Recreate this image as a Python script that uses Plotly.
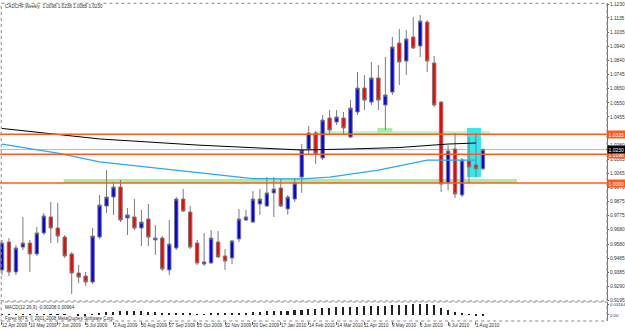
import pandas as pd
import plotly.graph_objects as go

# ---------------- data ----------------
weeks = pd.date_range("2009-04-12", periods=70, freq="7D")

opens = [0.9403, 0.9595, 0.9389, 0.9560, 0.9588, 0.9513, 0.9657, 0.9767, 0.9691, 0.9629,
         0.9513, 0.9382, 0.9361, 0.9320, 0.9629, 0.9842, 0.9904, 0.9973, 0.9760, 0.9767,
         0.9691, 0.9753, 0.9609, 0.9622, 0.9403, 0.9554, 0.9890, 0.9801, 0.9588, 0.9444,
         0.9451, 0.9595, 0.9499, 0.9485, 0.9616, 0.9746, 0.9732, 0.9856, 0.9842, 0.9932,
         0.9966, 0.9822, 0.9890, 1.0041, 1.0234, 1.0344, 1.0172, 1.0447, 1.0419, 1.0447,
         1.0316, 1.0488, 1.0653, 1.0556, 1.0722, 1.0536, 1.0625, 1.0962, 1.0838, 1.1003,
         1.0942, 1.1106, 1.0825, 1.0556, 1.0000, 1.0234, 0.9918, 1.0151, 1.0124, 1.0098]
highs = [0.9609, 0.9622, 0.9574, 0.9767, 0.9609, 0.9698, 0.9794, 0.9870, 0.9863, 0.9643,
         0.9526, 0.9437, 0.9389, 0.9691, 0.9918, 1.0089, 1.0007, 1.0021, 0.9829, 0.9890,
         0.9815, 0.9856, 0.9712, 0.9636, 0.9746, 0.9904, 0.9959, 0.9842, 0.9609, 0.9657,
         0.9677, 0.9670, 0.9547, 0.9609, 0.9822, 0.9815, 0.9945, 0.9959, 1.0041, 1.0041,
         1.0028, 0.9918, 1.0035, 1.0268, 1.0392, 1.0358, 1.0467, 1.0502, 1.0502, 1.0488,
         1.0570, 1.0763, 1.0742, 1.0832, 1.0811, 1.0866, 1.1003, 1.1058, 1.1051, 1.1141,
         1.1154, 1.1120, 1.0873, 1.0563, 1.0261, 1.0344, 1.0172, 1.0316, 1.0344, 1.0238]
lows = [0.9368, 0.9361, 0.9368, 0.9540, 0.9389, 0.9499, 0.9643, 0.9588, 0.9588, 0.9485,
        0.9238, 0.9313, 0.9293, 0.9306, 0.9616, 0.9794, 0.9781, 0.9732, 0.9643, 0.9677,
        0.9567, 0.9567, 0.9506, 0.9396, 0.9368, 0.9540, 0.9801, 0.9547, 0.9437, 0.9430,
        0.9444, 0.9485, 0.9403, 0.9444, 0.9595, 0.9739, 0.9726, 0.9781, 0.9835, 0.9767,
        0.9835, 0.9781, 0.9870, 0.9932, 1.0193, 1.0131, 1.0158, 1.0330, 1.0399, 1.0330,
        1.0309, 1.0467, 1.0502, 1.0536, 1.0502, 1.0364, 1.0605, 1.0673, 1.0742, 1.0921,
        1.0866, 1.0763, 1.0522, 0.9938, 0.9952, 0.9897, 0.9904, 1.0000, 1.0041, 1.0088]
closes = [0.9588, 0.9389, 0.9554, 0.9588, 0.9513, 0.9657, 0.9774, 0.9691, 0.9636, 0.9499,
          0.9382, 0.9354, 0.9320, 0.9636, 0.9849, 0.9904, 0.9973, 0.9746, 0.9781, 0.9691,
          0.9732, 0.9629, 0.9622, 0.9410, 0.9581, 0.9890, 0.9808, 0.9560, 0.9451, 0.9458,
          0.9622, 0.9492, 0.9464, 0.9602, 0.9753, 0.9767, 0.9890, 0.9890, 0.9932, 0.9959,
          0.9842, 0.9904, 1.0000, 1.0227, 1.0344, 1.0200, 1.0433, 1.0364, 1.0454, 1.0378,
          1.0515, 1.0653, 1.0570, 1.0722, 1.0570, 1.0605, 1.0935, 1.0832, 1.0990, 1.0928,
          1.1113, 1.0838, 1.0536, 0.9993, 1.0220, 0.9925, 1.0158, 1.0110, 1.0098, 1.0230]

macd = [0.0022, 0.0011, 0.0011, 0.0011, 0.0011, 0.0011, 0.0022, 0.0022, 0.0022, 0.0011,
        0.0000, -0.0011, -0.0011, 0.0011, 0.0044, 0.0076, 0.0098, 0.0109, 0.0109, 0.0109,
        0.0109, 0.0098, 0.0087, 0.0044, 0.0033, 0.0044, 0.0044, 0.0033, 0.0022, 0.0022,
        0.0033, 0.0033, 0.0033, 0.0044, 0.0055, 0.0065, 0.0087, 0.0098, 0.0109, 0.0120,
        0.0120, 0.0120, 0.0131, 0.0152, 0.0174, 0.0185, 0.0207, 0.0207, 0.0218, 0.0218,
        0.0228, 0.0240, 0.0250, 0.0262, 0.0262, 0.0262, 0.0282, 0.0292, 0.0300, 0.0310,
        0.0316, 0.0310, 0.0282, 0.0207, 0.0142, 0.0087, 0.0044, 0.0011, -0.0011, -0.0021]

ma_black_idx = [0, 14, 28, 36, 43, 50, 57, 64, 68]
ma_black_val = [1.0375, 1.0303, 1.0261, 1.0241, 1.0227, 1.0234, 1.0244, 1.0268, 1.0275]
ma_blue_idx = [0, 8, 14, 28, 36, 43, 47, 54, 57, 61, 68]
ma_blue_val = [1.0268, 1.0206, 1.0145, 1.0075, 1.0031, 1.0028, 1.0041, 1.0089, 1.0117, 1.0158, 1.0158]

levels_orange = [1.0335, 1.0198, 1.0000]
bid_price = 1.0230

price_ticks = [1.1230, 1.1135, 1.1035, 1.0940, 1.0840, 1.0745, 1.0650, 1.0550, 1.0455,
               1.0260, 1.0165, 1.0065, 0.9970, 0.9875, 0.9775, 0.9680, 0.9580, 0.9485, 0.9385,
               0.9290, 0.9195]
macd_ticks = [0.03164, 0.0]
date_labels = ["12 Apr 2009", "10 May 2009", "7 Jun 2009", "5 Jul 2009", "2 Aug 2009", "30 Aug 2009",
               "27 Sep 2009", "25 Oct 2009", "22 Nov 2009", "20 Dec 2009", "17 Jan 2010", "14 Feb 2010",
               "14 Mar 2010", "11 Apr 2010", "9 May 2010", "6 Jun 2010", "4 Jul 2010", "1 Aug 2010"]
date_ticks = [pd.Timestamp(d) for d in date_labels]

title_text = "CADCHF,Weekly  1.0098 1.0238 1.0088 1.0230"
macd_text = "MACD(12,26,9) -0.00208 0.00964"
copyright_text = "Forex MT4, \u00a9 2001-2008 MetaQuotes Software Corp."

# ---------------- styles ----------------
FONT = "Liberation Sans"
ORANGE = "#FF5A1E"
GREEN = "#A4EFA4"
CYAN = "#33E8EE"
TXT = "#333333"

fig = go.Figure()

fig.add_trace(go.Candlestick(
    x=weeks, open=opens, high=highs, low=lows, close=closes,
    increasing=dict(fillcolor="#0000FF", line=dict(color="#7a7a7a", width=1)),
    decreasing=dict(fillcolor="#FF0000", line=dict(color="#7a7a7a", width=1)),
    whiskerwidth=0, showlegend=False, hoverinfo="skip", xaxis="x", yaxis="y"))

fig.add_trace(go.Scatter(x=[weeks[i] for i in ma_black_idx], y=ma_black_val, mode="lines",
                         line=dict(color="#000000", width=1), showlegend=False, hoverinfo="skip",
                         xaxis="x", yaxis="y"))
fig.add_trace(go.Scatter(x=[weeks[i] for i in ma_blue_idx], y=ma_blue_val, mode="lines",
                         line=dict(color="#2AA8F0", width=1.3), showlegend=False, hoverinfo="skip",
                         xaxis="x", yaxis="y"))

fig.add_trace(go.Bar(x=weeks, y=macd, marker=dict(color="#222222", line=dict(width=0)),
                     width=1.6 * 86400000, showlegend=False, hoverinfo="skip",
                     xaxis="x", yaxis="y2"))

day = pd.Timedelta(days=1)
shapes = []
# green zones
shapes.append(dict(type="rect", xref="x", yref="y", x0=weeks[0] + 62 * day, x1=weeks[0] + 517 * day,
                   y0=1.0000, y1=1.0028, fillcolor=GREEN, line=dict(width=0), layer="below"))
shapes.append(dict(type="rect", xref="x", yref="y", x0=weeks[0] + 315 * day, x1=weeks[0] + 490 * day,
                   y0=1.0337, y1=1.0355, fillcolor=GREEN, line=dict(width=0), layer="below", opacity=0.7))
shapes.append(dict(type="rect", xref="x", yref="y", x0=weeks[0] + 377 * day, x1=weeks[0] + 392 * day,
                   y0=1.0348, y1=1.0378, fillcolor=GREEN, line=dict(width=0), layer="below"))
# cyan box
shapes.append(dict(type="rect", xref="x", yref="y", x0=weeks[0] + 467 * day, x1=weeks[0] + 481 * day,
                   y0=1.0041, y1=1.0378, fillcolor=CYAN, line=dict(width=0), layer="below"))
# horizontal levels
for lv in levels_orange:
    shapes.append(dict(type="line", xref="paper", yref="y", x0=0, x1=1, y0=lv, y1=lv,
                       line=dict(color=ORANGE, width=1.4), layer="above"))
shapes.append(dict(type="line", xref="paper", yref="y", x0=0, x1=1, y0=bid_price, y1=bid_price,
                   line=dict(color="#B8B8C8", width=1), layer="below"))
# panel frames
shapes.append(dict(type="rect", xref="paper", yref="paper", x0=0.002, x1=1, y0=0.0629, y1=0.999,
                   line=dict(color="#8a8a8a", width=1, dash="dot"), layer="above"))
shapes.append(dict(type="rect", xref="paper", yref="paper", x0=0.002, x1=1, y0=0.0, y1=0.0597,
                   line=dict(color="#8a8a8a", width=1, dash="dot"), layer="above"))
fig.update_layout(shapes=shapes)

annotations = []
tag_specs = [(levels_orange[0], ORANGE), (levels_orange[1], ORANGE), (levels_orange[2], ORANGE),
             (bid_price, "#000000")]
for val, col in tag_specs:
    annotations.append(dict(xref="paper", yref="y", x=1, y=val, xanchor="left", yanchor="middle",
                            text=f"{val:.4f}", showarrow=False, bgcolor=col, borderpad=0.5,
                            font=dict(family=FONT, size=5, color="white")))
for d, lab in zip(date_ticks, date_labels):
    annotations.append(dict(xref="x", yref="paper", x=d, y=-0.0145, xanchor="left", yanchor="middle",
                            xshift=-2, text=lab, showarrow=False,
                            font=dict(family=FONT, size=4.6, color=TXT)))
annotations.append(dict(xref="paper", yref="paper", x=0.005, y=0.988, xanchor="left", yanchor="middle",
                        text=title_text, showarrow=False, font=dict(family=FONT, size=4.6, color=TXT)))
annotations.append(dict(xref="paper", yref="paper", x=0.005, y=0.044, xanchor="left", yanchor="middle",
                        text=macd_text, showarrow=False, font=dict(family=FONT, size=4.6, color=TXT)))
annotations.append(dict(xref="paper", yref="paper", x=0.005, y=0.011, xanchor="left", yanchor="middle",
                        text=copyright_text, showarrow=False, font=dict(family=FONT, size=4.6, color=TXT)))
fig.update_layout(annotations=annotations)

fig.update_layout(
    width=625, height=330,
    margin=dict(l=0, r=18, t=3, b=9, autoexpand=False),
    paper_bgcolor="white", plot_bgcolor="white",
    bargap=0,
    xaxis=dict(type="date", range=["2009-04-10", "2010-12-10 14:00"], anchor="y2",
               rangeslider=dict(visible=False), showgrid=False, zeroline=False,
               showticklabels=False, ticks="outside", ticklen=3, tickcolor="#666666",
               tickvals=date_ticks, showline=False),
    yaxis=dict(domain=[0.0629, 1.0], range=[0.91896, 1.1237], side="right", anchor="x",
               showgrid=False, zeroline=False, tickvals=price_ticks,
               ticktext=[f"{v:.4f}" for v in price_ticks], ticks="outside", ticklen=1,
               tickcolor="#666666", showline=True, linecolor="#777777", linewidth=1,
               ticklabelstandoff=0,
               tickfont=dict(family=FONT, size=4.8, color=TXT), automargin=False),
    yaxis2=dict(domain=[0.0, 0.0597], range=[-0.0173, 0.0374], side="right", anchor="x",
                showgrid=False, zeroline=False, tickvals=macd_ticks,
                ticktext=["0.03164", "0.00"], ticks="outside", ticklen=1,
                tickcolor="#666666", showline=True, linecolor="#777777", linewidth=1,
                ticklabelstandoff=0,
                tickfont=dict(family=FONT, size=4.4, color=TXT), automargin=False),
    font=dict(family=FONT, size=6),
)

fig.write_html("out.html")
